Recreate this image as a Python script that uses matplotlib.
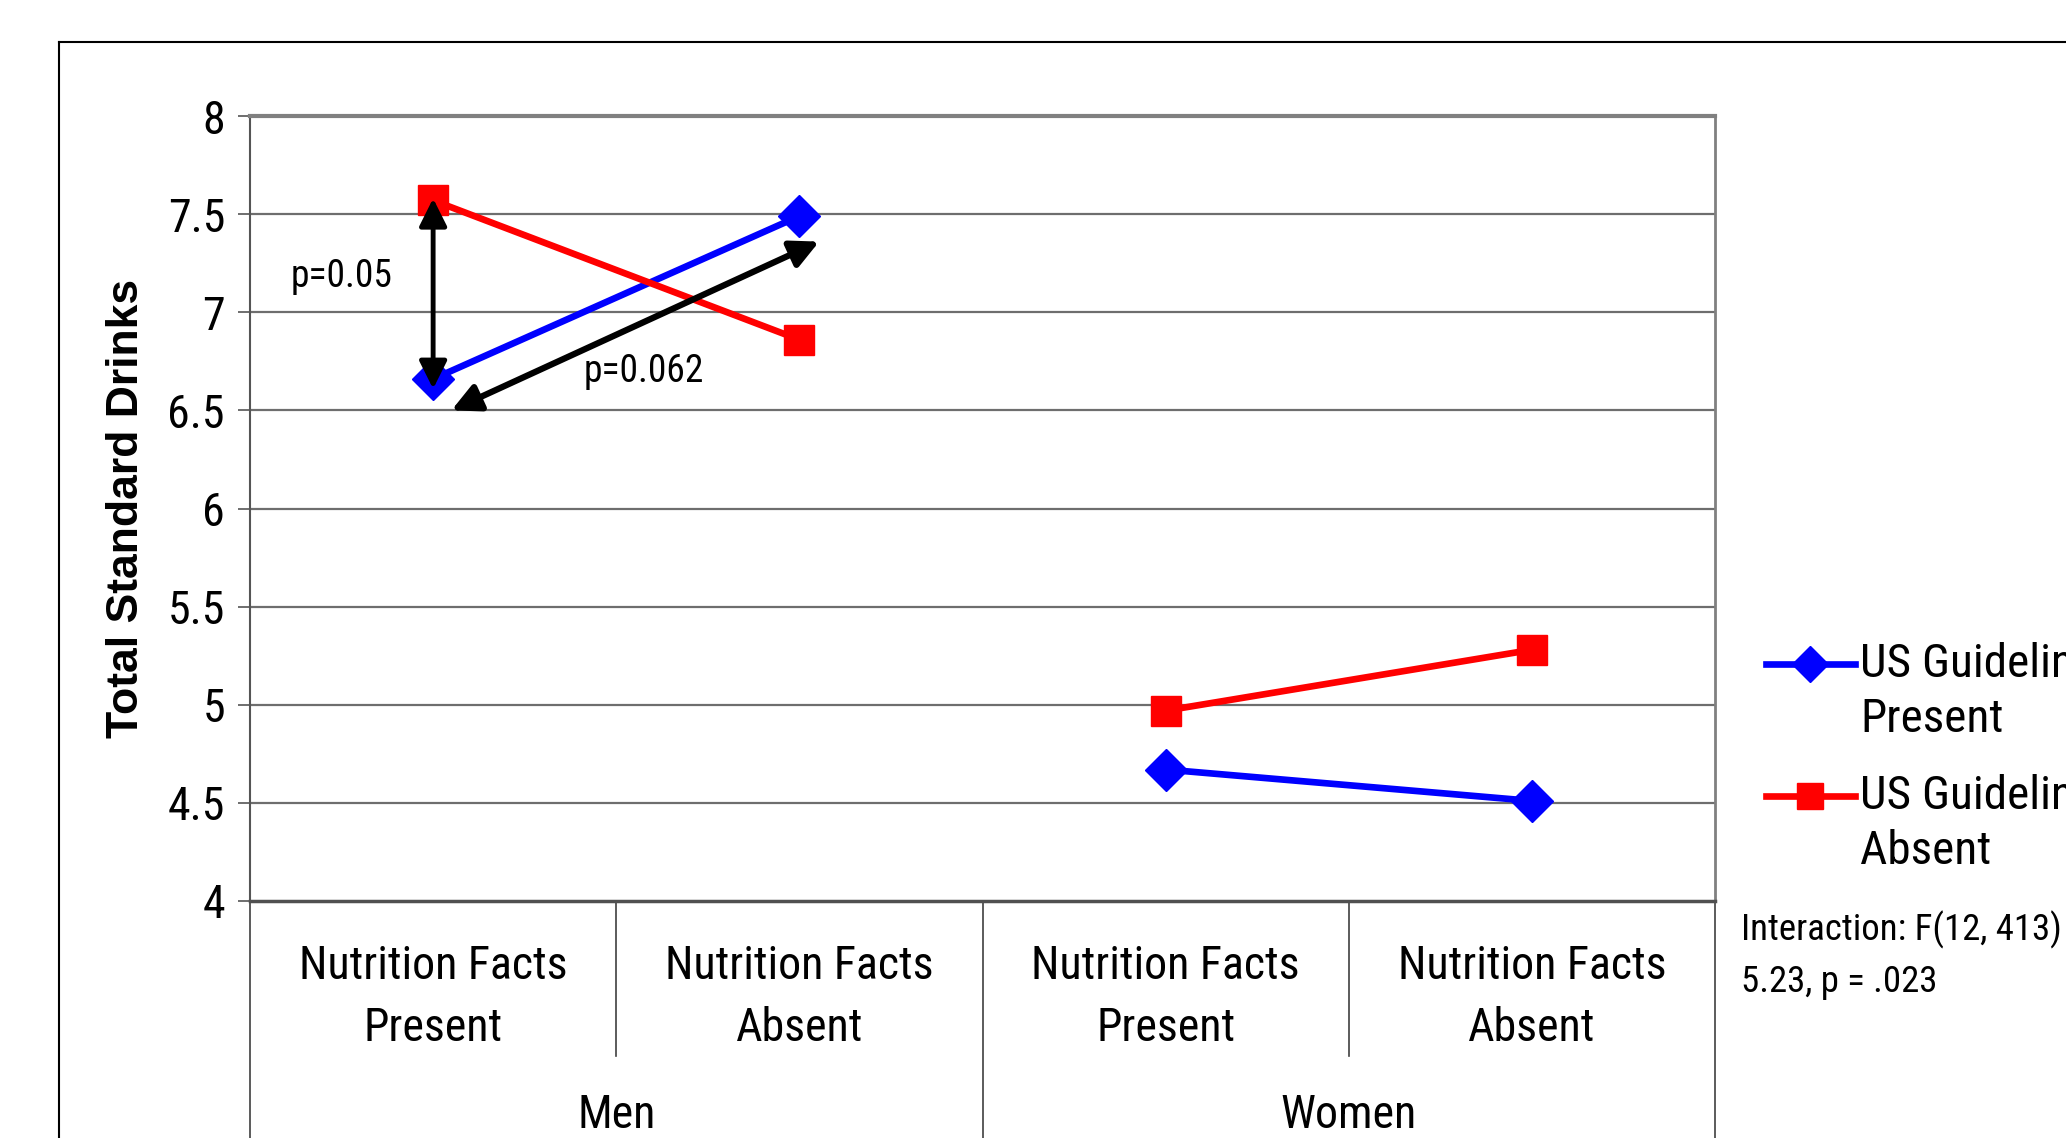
import matplotlib
matplotlib.use("Agg")
import matplotlib.pyplot as plt
from matplotlib.lines import Line2D
import matplotlib.transforms as mtransforms

# data
categories = ["Nutrition Facts\nPresent", "Nutrition Facts\nAbsent",
              "Nutrition Facts\nPresent", "Nutrition Facts\nAbsent"]
groups = ["Men", "Women"]
us_present = [6.66, 7.49, 4.67, 4.51]
us_absent = [7.57, 6.86, 4.97, 5.28]
y_ticks = [4, 4.5, 5, 5.5, 6, 6.5, 7, 7.5, 8]
y_tick_labels = ["4", "4.5", "5", "5.5", "6", "6.5", "7", "7.5", "8"]
series_labels = [("US Guidelines", "Present"), ("US Guidelines", "Absent")]

NARROW = ["Roboto Condensed", "Archivo Narrow", "Liberation Sans", "DejaVu Sans"]
BOLD = ["Liberation Sans", "DejaVu Sans"]
BLUE = "#0000FF"
RED = "#FF0000"

fig = plt.figure(figsize=(20.66, 11.38), dpi=100)
ax = fig.add_axes([250 / 2066, 1 - 901 / 1138, (1715 - 250) / 2066, (901 - 116) / 1138])

x = list(range(len(categories)))

# one line segment per group (Men: 0-1, Women: 2-3)
for g in range(len(groups)):
    xs = x[2 * g:2 * g + 2]
    ax.plot(xs, us_present[2 * g:2 * g + 2], color=BLUE, lw=4.8, marker="D",
            markersize=21, zorder=3, clip_on=False)
    ax.plot(xs, us_absent[2 * g:2 * g + 2], color=RED, lw=4.8, marker="s",
            markersize=21, zorder=4, clip_on=False)

ax.set_xlim(-0.5, 3.5)
ax.set_ylim(4, 8)

# gridlines
for yv in y_ticks[1:-1]:
    ax.axhline(yv, color="#6e6e6e", lw=1.6, zorder=1)

ax.spines["top"].set_color("#808080")
ax.spines["top"].set_linewidth(3)
ax.spines["right"].set_color("#808080")
ax.spines["right"].set_linewidth(2)
ax.spines["left"].set_color("#555555")
ax.spines["left"].set_linewidth(1.5)
ax.spines["bottom"].set_color("#505050")
ax.spines["bottom"].set_linewidth(2.5)

ax.set_yticks(y_ticks)
ax.set_yticklabels(y_tick_labels, family=NARROW, fontsize=33)
ax.tick_params(axis="y", direction="out", length=9, width=1.2, color="#555555", pad=9)
ax.set_xticks([])

ax.set_ylabel("Total Standard Drinks", family=BOLD, fontweight="bold", fontsize=32)
ax.yaxis.set_label_coords(-0.07, 0.5)

# two-level category axis
trans = mtransforms.blended_transform_factory(ax.transData, ax.transAxes)
for i, lab in enumerate(categories):
    ax.text(x[i], -0.122, lab, transform=trans, ha="center", va="center",
            family=NARROW, fontsize=33, linespacing=1.5)
for g, name in enumerate(groups):
    ax.text(2 * g + 0.5, -0.272, name, transform=trans, ha="center", va="center",
            family=NARROW, fontsize=33)
for b in [-0.5, 0.5, 1.5, 2.5, 3.5]:
    bottom = -0.197 if b in (0.5, 2.5) else -0.4
    ax.plot([b, b], [0, bottom], transform=trans, color="#404040", lw=1.2, clip_on=False)

# significance arrows
ax.annotate("", xy=(0, 6.61), xytext=(0, 7.58),
            arrowprops=dict(arrowstyle="<|-|>", color="black", lw=3.5,
                            mutation_scale=42, shrinkA=0, shrinkB=0), zorder=6)
ax.annotate("", xy=(0.05, 6.50), xytext=(1.054, 7.36),
            arrowprops=dict(arrowstyle="<|-|>", color="black", lw=4.5,
                            mutation_scale=42, shrinkA=0, shrinkB=0), zorder=6)
ax.text(-0.39, 7.18, "p=0.05", family=NARROW, fontsize=27, ha="left", va="center")
ax.text(0.41, 6.70, "p=0.062", family=NARROW, fontsize=27, ha="left", va="center")

# legend drawn by hand so the marker sits on the first text line
legend_y = [664, 796]
for (l1, l2), col, mk, y0 in zip(series_labels, [BLUE, RED], ["D", "s"], legend_y):
    yf = 1 - y0 / 1138
    fig.add_artist(Line2D([1766 / 2066, 1855 / 2066], [yf, yf], color=col, lw=4.8,
                          transform=fig.transFigure))
    fig.add_artist(Line2D([1810 / 2066], [yf], color=col, marker=mk,
                          markersize=18 if mk == "D" else 19, transform=fig.transFigure))
    fig.text(1860 / 2066, yf, l1, family=NARROW, fontsize=34, ha="left", va="center")
    fig.text(1860 / 2066, 1 - (y0 + 55) / 1138, l2, family=NARROW, fontsize=34,
             ha="left", va="center")

fig.text(1741 / 2066, 1 - 930 / 1138, "Interaction: F(12, 413) =", family=NARROW,
         fontsize=26.5, ha="left", va="center")
fig.text(1741 / 2066, 1 - 982 / 1138, "5.23, p = .023", family=NARROW,
         fontsize=26.5, ha="left", va="center")

# outer chart-area frame (cropped on right and bottom)
fx = 59 / 2066
fy = 1 - 42 / 1138
fig.add_artist(Line2D([fx, 1.0], [fy, fy], color="black", lw=1.5, transform=fig.transFigure))
fig.add_artist(Line2D([fx, fx], [0, fy], color="black", lw=1.5, transform=fig.transFigure))

fig.savefig("out.png", dpi=100)
